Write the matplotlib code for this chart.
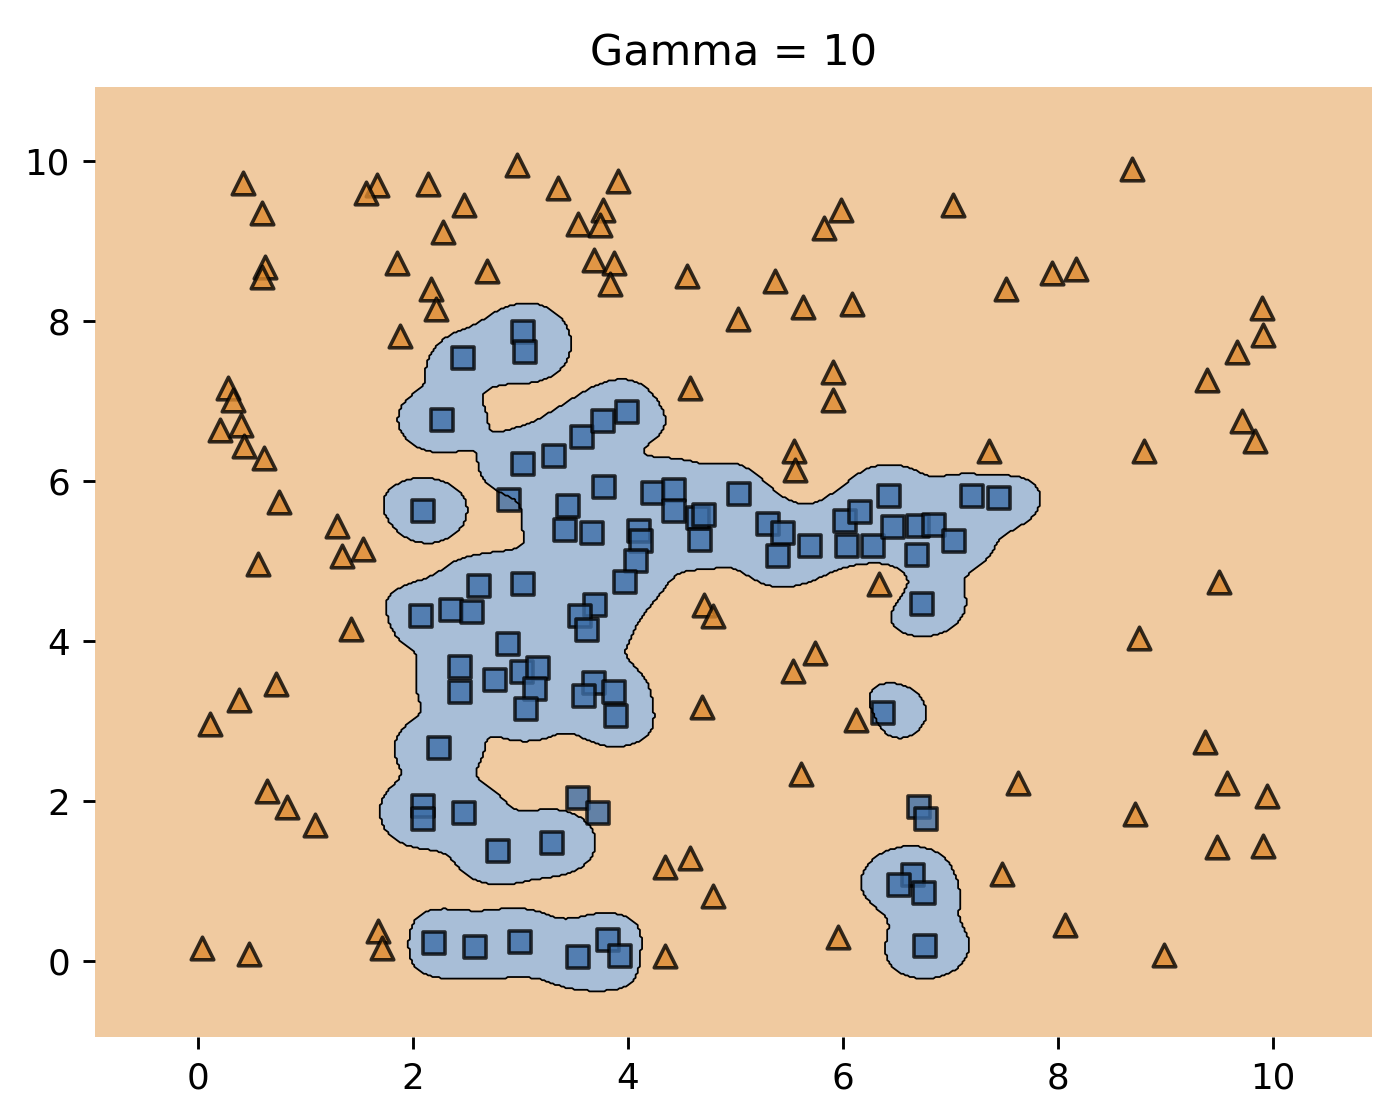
import numpy as np
import matplotlib
matplotlib.use('Agg')
import matplotlib.pyplot as plt

# Class 0 (squares) - training points
sq_x = [2.46, 3.02, 3.04, 2.27, 2.09, 3.02, 3.31, 3.57, 3.77, 3.99,
        3.78, 3.44, 3.41, 3.66, 4.23, 4.43, 4.43, 4.65, 4.71, 4.67, 4.10, 4.12, 4.07, 3.97, 5.03,
        2.61, 3.02, 2.07, 2.35, 2.55, 3.69, 3.55, 3.62, 2.88, 2.44, 2.44, 2.76, 3.01, 3.16, 3.13, 3.05, 3.68, 3.59, 3.87, 3.89,
        5.30, 5.44, 5.39, 5.69, 6.02, 6.16, 6.04, 6.28, 6.43, 6.46, 6.70, 6.85, 7.03, 6.69, 7.20, 7.45, 6.73, 6.37,
        2.24, 2.09, 2.09, 2.47, 2.79, 3.29,
        2.19, 2.58, 2.99, 3.53, 3.81, 3.92,
        6.65, 6.52, 6.75, 6.76]
sq_y = [7.54, 7.86, 7.61, 6.77, 5.63, 6.22, 6.32, 6.55, 6.75, 6.87,
        5.93, 5.69, 5.39, 5.35, 5.85, 5.89, 5.63, 5.54, 5.58, 5.26, 5.38, 5.25, 5.00, 4.74, 5.84,
        4.69, 4.71, 4.32, 4.39, 4.37, 4.45, 4.31, 4.14, 3.96, 3.68, 3.37, 3.51, 3.61, 3.66, 3.40, 3.15, 3.48, 3.31, 3.37, 3.07,
        5.46, 5.35, 5.06, 5.19, 5.50, 5.61, 5.19, 5.19, 5.81, 5.43, 5.44, 5.45, 5.25, 5.08, 5.81, 5.79, 4.47, 3.10,
        2.66, 1.94, 1.78, 1.85, 1.37, 1.48,
        0.23, 0.18, 0.24, 0.05, 0.26, 0.06,
        1.08, 0.95, 0.85, 0.19]

# Class 0 points that sit on the wrong side (held out of the fit)
sq_test_x = [2.89, 3.53, 3.72, 6.71, 6.77]
sq_test_y = [5.76, 2.04, 1.85, 1.92, 1.77]

# Class 1 (triangles)
tri_x = [0.42, 0.59, 0.62, 0.59, 1.66, 1.56, 1.85, 1.88, 0.28, 0.32, 0.20, 0.40, 0.43, 0.61, 0.75,
         1.29, 1.53, 1.34, 0.56, 1.42, 0.72, 0.38, 0.11, 0.64, 0.83, 1.09, 0.04, 0.47, 1.67, 1.71,
         2.14, 2.97, 2.47, 2.28, 3.35, 3.91, 3.53, 3.77, 3.74, 2.69, 3.68, 3.87, 3.83, 2.17, 2.21,
         4.55, 4.58, 5.02,
         5.98, 5.82, 7.02, 5.37, 5.63, 6.08, 7.52, 7.94, 5.91, 5.91,
         8.69, 8.17, 9.90, 9.91, 9.66, 9.39, 9.71, 9.83, 8.80, 9.50, 8.75,
         9.37, 9.57, 9.94, 8.72, 9.48, 9.91, 8.06, 8.99,
         6.12, 5.61, 7.63, 7.48, 5.95,
         4.34, 4.58, 4.79, 4.34,
         4.71, 4.79, 4.69,
         5.54, 5.55, 7.36, 6.33, 5.74, 5.53]
tri_y = [9.73, 9.36, 8.68, 8.55, 9.71, 9.60, 8.73, 7.81, 7.17, 7.02, 6.64, 6.70, 6.44, 6.29, 5.74,
         5.44, 5.15, 5.06, 4.97, 4.15, 3.46, 3.26, 2.96, 2.12, 1.92, 1.70, 0.16, 0.09, 0.38, 0.16,
         9.72, 9.95, 9.45, 9.12, 9.67, 9.75, 9.22, 9.39, 9.21, 8.63, 8.77, 8.73, 8.46, 8.40, 8.15,
         8.56, 7.17, 8.03,
         9.39, 9.17, 9.45, 8.50, 8.18, 8.21, 8.40, 8.60, 7.36, 7.02,
         9.91, 8.66, 8.17, 7.83, 7.61, 7.27, 6.75, 6.50, 6.38, 4.74, 4.04,
         2.74, 2.23, 2.06, 1.84, 1.43, 1.44, 0.45, 0.07,
         3.02, 2.34, 2.22, 1.09, 0.30,
         1.17, 1.29, 0.81, 0.06,
         4.45, 4.32, 3.18,
         6.38, 6.14, 6.38, 4.72, 3.85, 3.63]

gamma = 10
C = 1.0
colors = ['#3e6fa8', '#de8a2e']

# RBF SVM (dual coordinate ascent, bias folded into kernel)
X = np.column_stack([sq_x + tri_x, sq_y + tri_y])
y = np.array([1.0] * len(sq_x) + [-1.0] * len(tri_x))

def rbf(A, B):
    d = ((A[:, None, :] - B[None, :, :]) ** 2).sum(-1)
    return np.exp(-gamma * d)

K = rbf(X, X) + 1.0
Q = y[:, None] * y[None, :] * K
alpha = np.zeros(len(y))
for epoch in range(400):
    for i in range(len(y)):
        g = Q[i] @ alpha - 1.0
        alpha[i] = min(max(alpha[i] - g / Q[i, i], 0.0), C)

# grid like mlxtend
all_x = np.array(sq_x + sq_test_x + tri_x)
all_y = np.array(sq_y + sq_test_y + tri_y)
res = 0.02
xx, yy = np.meshgrid(np.arange(all_x.min() - 1, all_x.max() + 1, res),
                     np.arange(all_y.min() - 1, all_y.max() + 1, res))
f = np.zeros_like(xx)
sv = alpha > 1e-8
for (px, py), a, t in zip(X[sv], alpha[sv], y[sv]):
    f += a * t * (np.exp(-gamma * ((xx - px) ** 2 + (yy - py) ** 2)) + 1.0)
Z = np.where(f > 0, 0, 1)

fig = plt.figure(figsize=(1384 / 257, 1108 / 257), dpi=257)
ax = fig.add_axes([0.0686, 0.0641, 0.9227, 0.8574])
levels = [-0.5, 0.5, 1.5]
cs = ax.contourf(xx, yy, Z, levels=levels, colors=colors, alpha=0.45)
ax.contour(xx, yy, Z, levels=levels, colors='k', linewidths=0.5)

ax.scatter(sq_x + sq_test_x, sq_y + sq_test_y, marker='s', s=40, c=colors[0],
           edgecolor='black', alpha=0.8)
ax.scatter(tri_x, tri_y, marker='^', s=40, c=colors[1], edgecolor='black', alpha=0.8)

ax.set_xlim(xx.min(), xx.max())
ax.set_ylim(yy.min(), yy.max())
for s in ax.spines.values():
    s.set_visible(False)
ax.set_title('Gamma = 10', fontsize=12)

fig.savefig('out.png', dpi=257)
